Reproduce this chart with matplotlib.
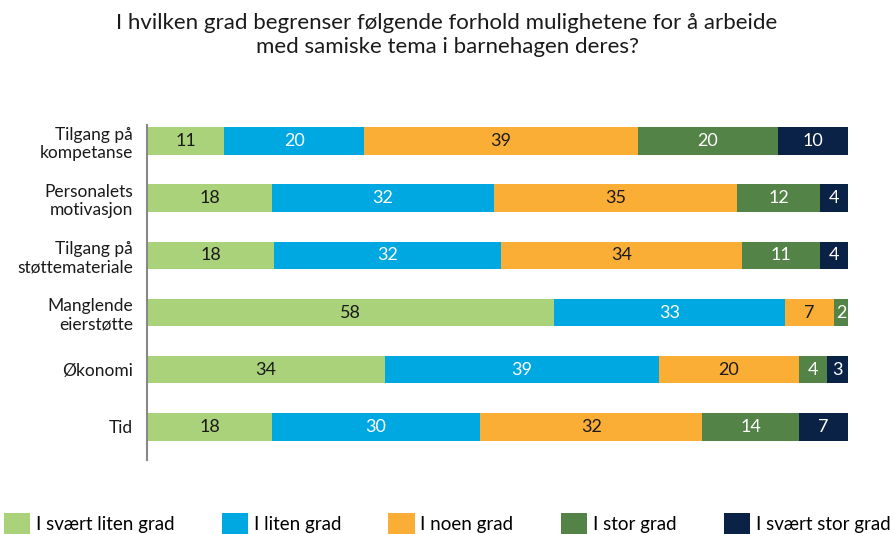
import numpy as np
import matplotlib as mpl
from matplotlib import pyplot as plt

plt.rcParams['font.family'] = ['Lato', 'DejaVu Sans']

categories = ['Tilgang på\nkompetanse', 'Personalets\nmotivasjon', 'Tilgang på\nstøttemateriale',
              'Manglende\neierstøtte', 'Økonomi', 'Tid']
series = ['I svært liten grad', 'I liten grad', 'I noen grad', 'I stor grad', 'I svært stor grad']
svaert_liten = [11, 18, 18, 58, 34, 18]
liten        = [20, 32, 32, 33, 39, 30]
noen         = [39, 35, 34, 7, 20, 32]
stor         = [20, 12, 11, 2, 4, 14]
svaert_stor  = [10, 4, 4, 0, 3, 7]

colors     = ['#A9D27A', '#00A8E1', '#FBAE35', '#548347', '#0A2246']
txt_colors = ['#1a1a1a', 'white', '#1a1a1a', 'white', 'white']

fig = plt.figure(figsize=(8.94, 5.34), dpi=100)
ax  = fig.add_axes([147/894, 1-460/534, 701/894, 335/534])

all_vals = np.array([svaert_liten, liten, noen, stor, svaert_stor], dtype=float)
# rounded labels don't always sum to 100, bars are stretched to full width
totals = all_vals.sum(axis=0)

ypos = np.arange(len(categories))
left = np.zeros(len(categories))
for vals, name, col, tcol in zip(all_vals, series, colors, txt_colors):
    widths = vals / totals * 100
    ax.barh(ypos, widths, left=left, height=0.48, color=col, label=name)
    for yy, ll, ww, vv in zip(ypos, left, widths, vals):
        if vv > 0:
            ax.text(ll + ww/2, yy, '{:d}'.format(int(vv)), ha='center', va='center',
                    fontsize=13, color=tcol)
    left += widths

ax.set_xlim(0, 100)
ax.set_ylim(5.58, -0.28)
ax.set_yticks(ypos)
ax.set_yticklabels(categories, fontsize=12.5, color='#1a1a1a')
ax.tick_params(axis='y', length=0, pad=10)
ax.set_xticks([])
for sp in ['top', 'right', 'bottom']:
    ax.spines[sp].set_visible(False)
ax.spines['left'].set_color('#888888')
ax.spines['left'].set_linewidth(1.5)

fig.text(0.5, 1-35/534, 'I hvilken grad begrenser følgende forhold mulighetene for å arbeide\nmed samiske tema i barnehagen deres?',
         ha='center', va='center', fontsize=16, color='#1a1a1a', linespacing=1.25)

fig.legend(loc='lower left', bbox_to_anchor=(0.0, -0.008, 1.0, 0.06), mode='expand', ncol=5,
           frameon=False, fontsize=13.5, handlelength=1.4, handleheight=1.4, handletextpad=0.3,
           borderaxespad=0.1, borderpad=0.1)

fig.savefig('out.png', dpi=100)
